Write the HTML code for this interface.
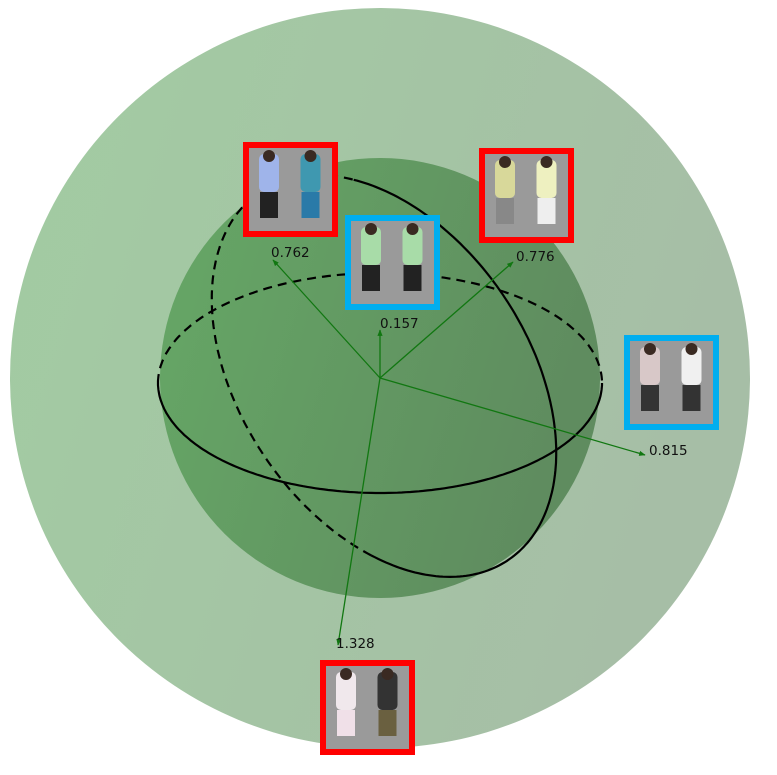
<!DOCTYPE html>
<html><head><meta charset="utf-8"><style>
html,body{margin:0;padding:0;background:#fff;}
svg{display:block;font-family:"DejaVu Sans","Liberation Sans",sans-serif;}
</style></head><body>
<svg id="c" width="777" height="775" viewBox="0 0 777 775">
<defs>
<linearGradient id="og" x1="0" y1="0" x2="1" y2="0.3"><stop offset="0" stop-color="#a2cca2"/><stop offset="1" stop-color="#a6bea6"/></linearGradient>
<linearGradient id="ig" x1="0" y1="0" x2="1" y2="0.3"><stop offset="0" stop-color="#66a866"/><stop offset="1" stop-color="#5f8c5f"/></linearGradient>
<marker id="ah" viewBox="0 0 10 10" refX="9" refY="5" markerWidth="5" markerHeight="5" orient="auto"><path d="M0,1 L10,5 L0,9 z" fill="#117711"/></marker>
</defs>
<circle cx="380" cy="378" r="370" fill="url(#og)"/>
<circle cx="380" cy="378" r="220" fill="url(#ig)"/>
<g id="orbits"></g>
<g id="arrows"></g>
<g id="thumbs"></g>
</svg>
<script>
const labels = ["0.762","0.157","0.776","0.815","1.328"];
const values = [0.762,0.157,0.776,0.815,1.328];
const matchType = ["neg","pos","neg","pos","neg"];
const tipX = [273,380,513,645,338];
const tipY = [260,330,262,455,645];
const NS="http://www.w3.org/2000/svg";
const ox=380, oy=378;
function mk(t,a,p){const e=document.createElementNS(NS,t);for(const k in a)e.setAttribute(k,a[k]);p.appendChild(e);return e;}
const orb=document.getElementById('orbits');
function ell(cx,cy,rx,ry,rot,t0,t1,dash,name){
  let pts=[];const r=rot*Math.PI/180;
  for(let i=0;i<=160;i++){const t=t0+(t1-t0)*i/160;const x=rx*Math.cos(t),y=ry*Math.sin(t);
    pts.push((cx+x*Math.cos(r)-y*Math.sin(r)).toFixed(1)+','+(cy+x*Math.sin(r)+y*Math.cos(r)).toFixed(1));}
  const e=mk('polyline',{points:pts.join(' '),fill:'none',stroke:'#000','stroke-width':2.2},orb);
  if(dash)e.setAttribute('stroke-dasharray','9,6');
  
  
}
ell(380,383,222,110,0,Math.PI,2*Math.PI,true,'equator-back-dashed');
ell(380,383,222,110,0,0,Math.PI,false,'equator-front');
ell(384,376,222,144,56,Math.PI*0.28,Math.PI*1.2,true,'meridian-back-dashed');
ell(384,376,222,144,56,Math.PI*1.2,Math.PI*2.28,false,'meridian-front');
const ar=document.getElementById('arrows');
const lx=[271,380,516,649,336], ly=[253,324,257,451,644];
for(let i=0;i<labels.length;i++){
  const l=mk('line',{x1:ox,y1:oy,x2:tipX[i],y2:tipY[i],stroke:'#117711','stroke-width':1.3,'marker-end':'url(#ah)'},ar);
  
  
  const t=mk('text',{x:lx[i],y:ly[i],'font-size':13.5,fill:'#111','dominant-baseline':'central'},ar);
  t.textContent=labels[i];
  
  
}
const th=document.getElementById('thumbs');
const boxX=[243,345,479,624,320], boxY=[142,215,148,335,660];
const shirt=[["#9fb4ea","#3f98b0"],["#a8dca8","#a8dca8"],["#d8d89a","#eef0c0"],["#d8c8c8","#f0f0f0"],["#f0e8ec","#333"]];
const pants=[["#222","#2a7aa8"],["#222","#222"],["#888","#eee"],["#333","#333"],["#f0e0e8","#6a6040"]];
for(let i=0;i<boxX.length;i++){
  const g=mk('g',{},th);
  
  
  const x=boxX[i],y=boxY[i];
  const col=matchType[i]==='neg'?'#ff0000':'#00aeef';
  mk('rect',{x:x,y:y,width:95,height:95,fill:col},g);
  mk('rect',{x:x+6,y:y+6,width:83,height:83,fill:'#9a9a9a'},g);
  for(let p=0;p<2;p++){
    const px=x+6+p*41.5;
    mk('rect',{x:px+10,y:y+12,width:20,height:38,rx:5,fill:shirt[i][p]},g);
    mk('circle',{cx:px+20,cy:y+14,r:6,fill:'#3a2a22'},g);
    mk('rect',{x:px+11,y:y+50,width:18,height:26,fill:pants[i][p]},g);
  }
}
</script>
</body></html>
